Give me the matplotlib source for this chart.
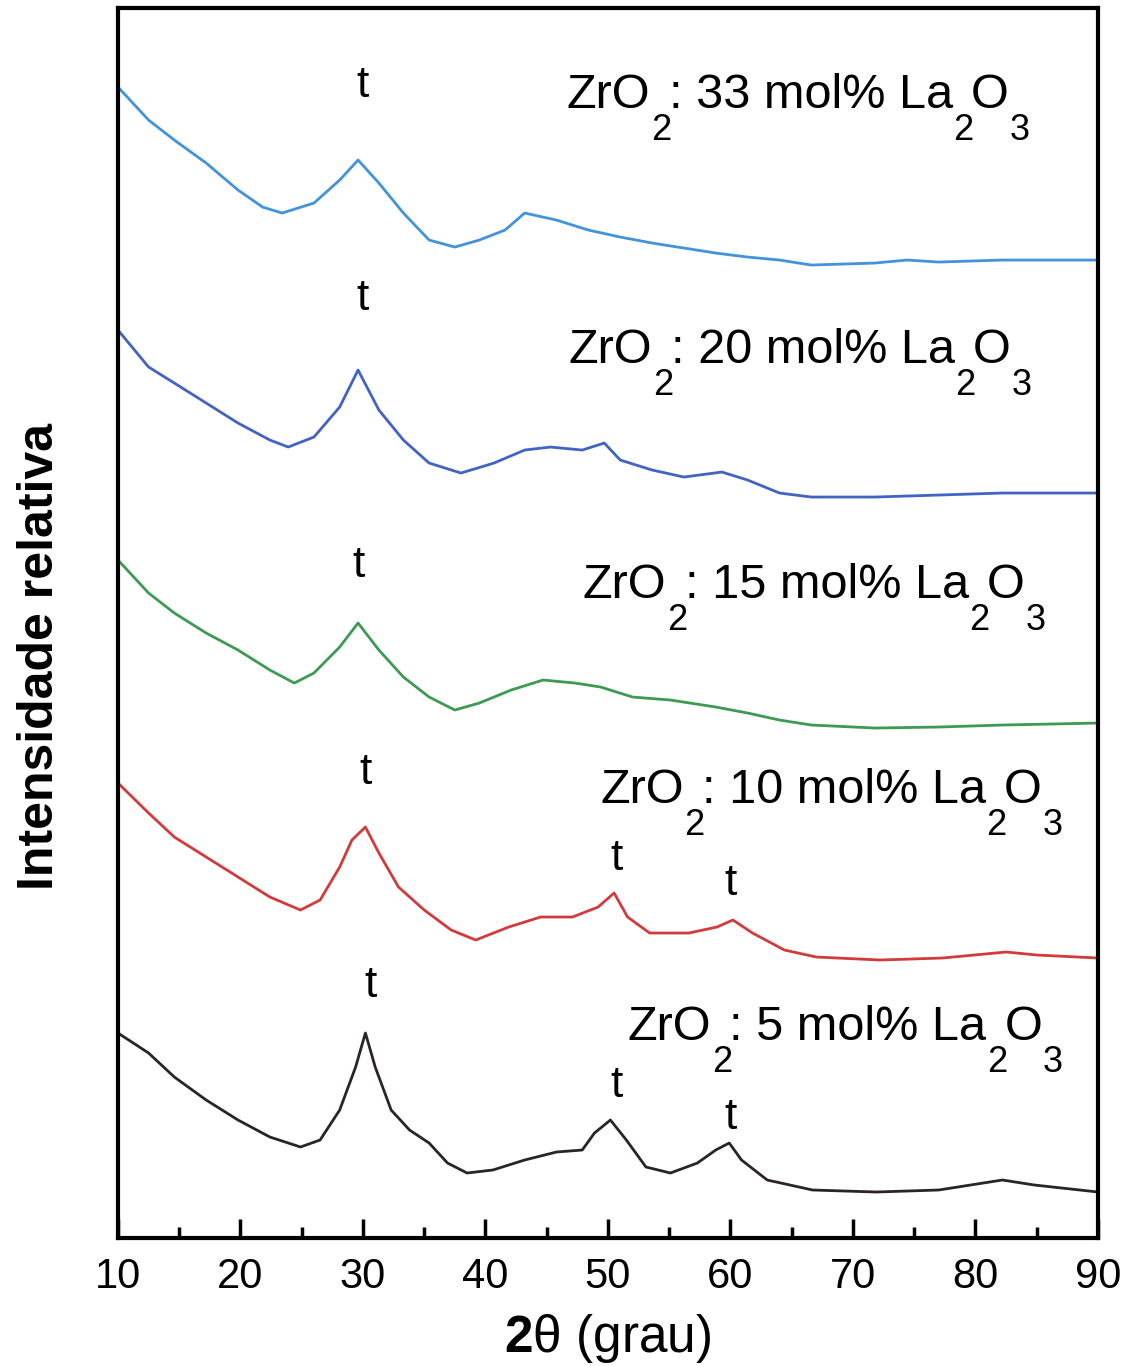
"""XRD patterns of ZrO2 : La2O3 samples (stacked, relative intensity)."""

import matplotlib

matplotlib.use("Agg")
import matplotlib.pyplot as plt
from matplotlib.ticker import MultipleLocator

plt.rcParams["font.family"] = ["Liberation Sans", "DejaVu Sans"]
plt.rcParams["mathtext.fontset"] = "custom"
plt.rcParams["mathtext.rm"] = "Liberation Sans"
plt.rcParams["mathtext.bf"] = "Liberation Sans:bold"

# 2theta (deg) and intensity (a.u., already offset)
theta_5 = [10.0, 12.5, 14.6, 17.2, 19.8, 22.4, 24.9, 26.5, 28.1, 29.4, 30.2, 31.0,
           32.3, 33.8, 35.4, 36.9, 38.5, 40.6, 43.2, 45.8, 47.9, 48.9, 50.2, 51.5,
           53.1, 55.1, 57.3, 58.8, 59.9, 60.9, 63.0, 66.7, 71.9, 77.0, 79.6, 82.2,
           84.8, 90.0]
inten_5 = [205, 185, 161, 138, 118, 101, 91, 98, 128, 171, 205, 171,
           128, 108, 95, 75, 65, 68, 78, 86, 88, 105, 118, 98,
           71, 65, 75, 88, 95, 78, 58, 48, 46, 48, 53, 58,
           53, 46]

theta_10 = [10.0, 12.5, 14.6, 17.2, 19.8, 22.4, 24.9, 26.5, 28.1, 29.1, 30.2, 31.3,
            32.9, 35.0, 37.2, 39.2, 41.9, 44.5, 47.1, 49.2, 50.5, 51.6, 53.4, 56.6,
            58.9, 60.2, 61.8, 64.4, 67.0, 72.2, 77.3, 82.5, 85.0, 90.0]
inten_10 = [455, 425, 401, 381, 361, 341, 328, 338, 371, 398, 411, 385,
            351, 328, 308, 298, 311, 321, 321, 331, 345, 321, 305, 305,
            311, 318, 305, 288, 281, 278, 280, 286, 283, 280]

theta_15 = [10.0, 12.5, 14.6, 17.2, 19.8, 22.4, 24.4, 26.0, 28.1, 29.6, 31.3, 33.3,
            35.4, 37.5, 39.5, 42.1, 44.7, 47.3, 49.4, 52.0, 55.1, 58.8, 61.4, 64.0,
            66.6, 71.8, 77.0, 82.2, 90.0]
inten_15 = [678, 645, 625, 605, 588, 568, 555, 565, 591, 615, 588, 561,
            541, 528, 535, 548, 558, 555, 551, 541, 538, 531, 525, 518,
            513, 510, 511, 513, 515]

theta_20 = [10.0, 12.5, 14.6, 17.2, 19.8, 22.4, 23.9, 26.0, 28.1, 29.6, 31.3, 33.3,
            35.4, 38.0, 40.7, 43.2, 45.3, 47.9, 49.7, 51.0, 53.6, 56.2, 59.3, 61.4,
            64.0, 66.6, 71.8, 77.0, 82.2, 90.0]
inten_20 = [908, 871, 855, 835, 815, 798, 791, 801, 831, 868, 828, 798,
            775, 765, 775, 788, 791, 788, 795, 778, 768, 761, 766, 758,
            745, 741, 741, 743, 745, 745]

theta_33 = [10.0, 12.5, 14.6, 17.2, 19.8, 21.8, 23.4, 26.0, 28.1, 29.6, 31.3, 33.3,
            35.4, 37.5, 39.5, 41.6, 43.2, 45.8, 48.4, 51.0, 53.6, 56.2, 58.8, 61.4,
            64.0, 66.6, 71.8, 74.4, 77.0, 82.2, 90.0]
inten_33 = [1151, 1118, 1098, 1075, 1048, 1031, 1025, 1035, 1058, 1078, 1055, 1025,
            998, 991, 998, 1008, 1025, 1018, 1008, 1001, 995, 990, 985, 981,
            978, 973, 975, 978, 976, 978, 978]

la_content = ["5", "10", "15", "20", "33"]

# tetragonal-phase markers ("t"): (2theta, intensity)
t_marks = [(30.0, 1153), (30.0, 940), (29.6, 673), (30.2, 466), (30.6, 253),
           (50.7, 380), (60.0, 355), (50.7, 153), (60.0, 121)]

# sample label anchors (left edge x, baseline y)
label_pos = [(51.6, 198), (49.35, 435), (47.96, 640), (46.8, 875), (46.65, 1130)]

colors = ["#2b2325", "#d23b3b", "#3e9a52", "#4164c4", "#4393dc"]

MAIN_SIZE = 35
SUB_SIZE = 26


def draw_formula(ax, x, y, pieces):
    """Write text pieces one after another; subscripts hang below the baseline."""
    prev = ax.text(x, y, pieces[0][0], fontsize=MAIN_SIZE, va="baseline", ha="left")
    for text, is_sub in pieces[1:]:
        if is_sub:
            prev = ax.annotate(text, xy=(1, y), xycoords=(prev, "data"),
                               xytext=(0.5, -3.5), textcoords="offset points",
                               fontsize=SUB_SIZE, va="top", ha="left")
        else:
            prev = ax.annotate(text, xy=(1, y), xycoords=(prev, "data"),
                               xytext=(-2.0, 0), textcoords="offset points",
                               fontsize=MAIN_SIZE, va="baseline", ha="left")


fig = plt.figure(figsize=(11.31, 13.66), dpi=100)
ax = fig.add_axes([0.1043, 0.0937, 0.8665, 0.9004])

series = [(theta_5, inten_5), (theta_10, inten_10), (theta_15, inten_15),
          (theta_20, inten_20), (theta_33, inten_33)]
for (th, it), color in zip(series, colors):
    ax.plot(th, it, color=color, lw=2.0)

for (x, y), mol in zip(label_pos, la_content):
    draw_formula(ax, x, y, [("ZrO", False), ("2", True),
                            (f": {mol} mol% La", False), ("2", True),
                            ("O", False), ("3", True)])

for x, y in t_marks:
    ax.text(x, y, "t", fontsize=32, ha="center", va="center")

ax.set_xlim(10, 90)
ax.set_ylim(0, 1230)
ax.xaxis.set_major_locator(MultipleLocator(10))
ax.xaxis.set_minor_locator(MultipleLocator(5))
ax.tick_params(axis="x", which="major", direction="in", length=14, width=2.5,
               labelsize=30, pad=14)
ax.tick_params(axis="x", which="minor", direction="in", length=8, width=2.5)
ax.set_yticks([])
for spine in ax.spines.values():
    spine.set_linewidth(3)

ax.set_xlabel(r"$\mathbf{2}\mathrm{\theta}$ (grau)", fontsize=37, va="top")
ax.xaxis.set_label_coords(0.5, -0.06)
ax.set_ylabel("Intensidade relativa", fontsize=36, fontweight="bold", va="center")
ax.yaxis.set_label_coords(-0.08, 0.473)

fig.savefig("out.png", dpi=100)
